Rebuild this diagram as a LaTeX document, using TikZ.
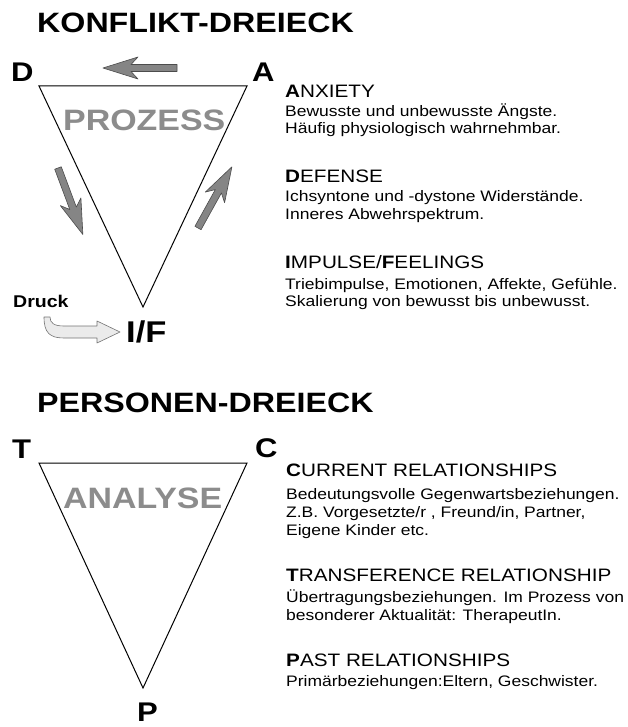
\documentclass[tikz,border=0pt]{standalone}
\usepackage{fontspec}
\setmainfont[FakeStretch=1.15]{Liberation Sans}

\tikzset{
  tri/.style={line width=1pt, line join=miter},
  title/.style={anchor=base west, inner sep=0, font=\fontsize{28}{28}\selectfont\bfseries},
  corner/.style={anchor=base west, inner sep=0, font=\fontsize{27}{27}\selectfont\bfseries},
  ghost/.style={anchor=base west, inner sep=0, text=black!45, font=\fontsize{29.5}{29.5}\selectfont\bfseries},
  head/.style={anchor=base west, inner sep=0, font=\fontsize{18}{18}\selectfont},
  body/.style={anchor=base west, inner sep=0, font=\fontsize{15.2}{15.2}\selectfont},
  blockarrow/.style={fill=black!48, draw=black!70, line width=.6pt, line join=round},
  druckarrow/.style={fill=black!8, draw=black!55, line width=.6pt, line join=round}
}

\begin{document}
\begin{tikzpicture}[x=1pt,y=-1pt]
\useasboundingbox (0,0) rectangle (628,727);

% Konflikt-Dreieck
\node [title] (konflikt) at (37,33) {KONFLIKT-DREIECK};
\coordinate (d) at (39,86);
\coordinate (a) at (247,86);
\coordinate (if) at (143,307);
\draw [tri] (d) -- (a) -- (if) -- cycle;
\node [corner] (dlabel) at (11,82) {D};
\node [corner] (alabel) at (252,82) {A};
\node [corner, font=\fontsize{30}{30}\selectfont\bfseries] (iflabel) at (126,342) {I/F};
\node [ghost] (prozess) at (63,131) {PROZESS};

\foreach \x/\y/\r/\l in {177/68/180/74, 58/168/-69.5/71, 198/228/61/70}
  \draw [blockarrow, shift={(\x,\y)}, rotate=\r] (0,-3.5) -- (\l-28,-3.5) -- (\l-35,-11) -- (\l,0) -- (\l-35,11) -- (\l-28,3.5) -- (0,3.5) -- cycle;

\node [anchor=base west, inner sep=0, font=\fontsize{17}{17}\selectfont\bfseries] (druck) at (13,307) {Druck};
\draw [druckarrow] (44,317) .. controls (44,333) and (50,338) .. (64,338) -- (97,338) -- (97,343) -- (120,332) -- (97,321) -- (97,326) -- (64,326) .. controls (54,326) and (50,323) .. (50,317) -- cycle;

\node [head] (anxiety) at (285,98) {\textbf{A}NXIETY};
\node [head] (defense) at (285,183) {\textbf{D}EFENSE};
\node [head] (impulse) at (285,268) {\textbf{I}MPULSE/\textbf{F}EELINGS};
\foreach \y/\t in {117/{Bewusste und unbewusste Ängste.}, 134/{Häufig physiologisch wahrnehmbar.},
  202/{Ichsyntone und -dystone Widerstände.}, 219/{Inneres Abwehrspektrum.},
  289/{Triebimpulse, Emotionen, Affekte, Gefühle.}, 306/{Skalierung von bewusst bis unbewusst.}}
  \node [body] (kline\y) at (285,\y) {\t};

% Personen-Dreieck
\node [title] (personen) at (37,412) {PERSONEN-DREIECK};
\coordinate (t) at (39,463);
\coordinate (c) at (247,463);
\coordinate (p) at (143,688);
\draw [tri] (t) -- (c) -- (p) -- cycle;
\node [corner] (tlabel) at (12,458) {T};
\node [corner] (clabel) at (255,457) {C};
\node [corner] (plabel) at (137,721) {P};
\node [ghost] (analyse) at (63,508) {ANALYSE};

\node [head] (current) at (286,476) {\textbf{C}URRENT RELATIONSHIPS};
\node [head] (transfer) at (286,581) {\textbf{T}RANSFERENCE RELATIONSHIP};
\node [head] (past) at (286,666) {\textbf{P}AST RELATIONSHIPS};
\foreach \y/\t in {499/{Bedeutungsvolle Gegenwartsbeziehungen.}, 517/{Z.B. Vorgesetzte/r , Freund/in, Partner,},
  535/{Eigene Kinder etc.}, 602/{Übertragungsbeziehungen. Im Prozess von},
  620/{besonderer Aktualität: TherapeutIn.}, 686/{Primärbeziehungen:Eltern, Geschwister.}}
  \node [body] (pline\y) at (286,\y) {\t};

\end{tikzpicture}
\end{document}
